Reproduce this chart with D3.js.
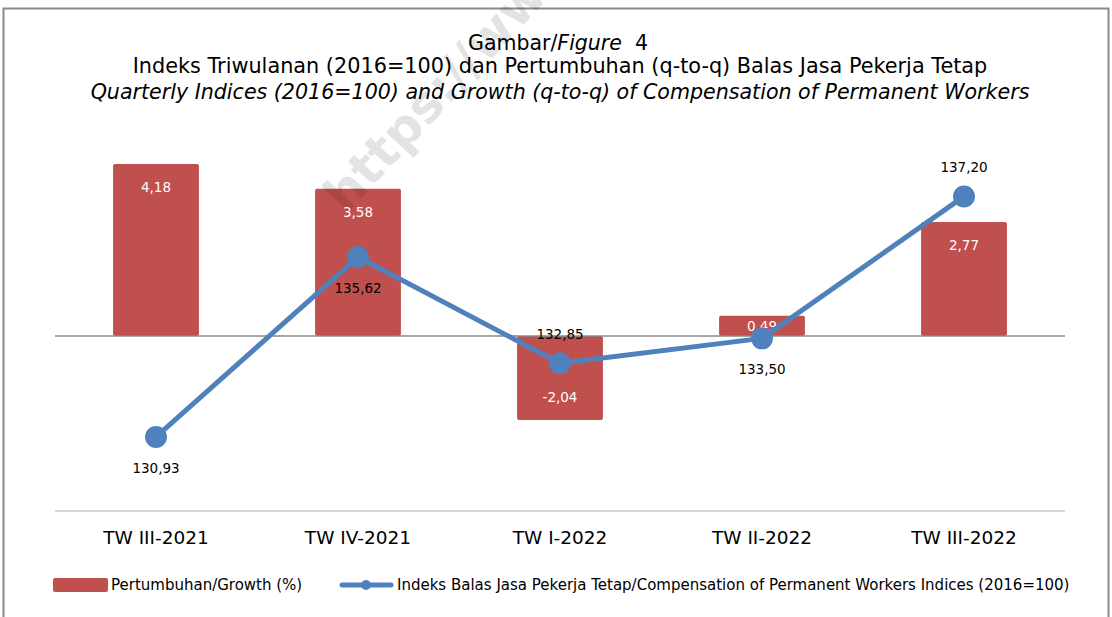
<!DOCTYPE html>
<html><head><meta charset="utf-8">
<script src="https://cdn.jsdelivr.net/npm/d3@7"></script>
<style>
body{margin:0;background:#fff;}
text{font-family:"DejaVu Sans",Verdana,sans-serif;}
</style></head>
<body><svg id="c" width="1112" height="617"></svg>
<script>
const categories = ["TW III-2021","TW IV-2021","TW I-2022","TW II-2022","TW III-2022"];
const growth = [4.18, 3.58, -2.04, 0.49, 2.77];
const indices = [130.93, 135.62, 132.85, 133.50, 137.20];
const growthLabels = ["4,18","3,58","-2,04","0,49","2,77"];
const indexLabels = ["130,93","135,62","132,85","133,50","137,20"];
const indexLabelPos = ["below","below","above","below","above"];
const growthDomain = [-4.25, 6];
const indexDomain = [129, 140];
const legendLabels = ["Pertumbuhan/Growth (%)","Indeks Balas Jasa Pekerja Tetap/Compensation of Permanent Workers Indices (2016=100)"];

const svg = d3.select("#c");
const red = "#C0504D", blue = "#4F81BD";
const plot = {left:55, right:1065, top:89, bottom:511};

// frame
svg.append("rect").attr("x",3.5).attr("y",8.5).attr("width",1105).attr("height",640)
  .attr("fill","#fff").attr("stroke","#8a8a8a").attr("stroke-width",2);

// titles
const t1 = svg.append("text").attr("x",558).attr("y",50).attr("text-anchor","middle")
  .attr("font-size",20.5).attr("fill","#000").attr("xml:space","preserve");
t1.append("tspan").text("Gambar/");
t1.append("tspan").attr("font-style","italic").text("Figure");
t1.append("tspan").text("  4");
svg.append("text").attr("x",560).attr("y",73).attr("text-anchor","middle").attr("font-size",20.8)
  .text("Indeks Triwulanan (2016=100) dan Pertumbuhan (q-to-q) Balas Jasa Pekerja Tetap");
svg.append("text").attr("x",560).attr("y",99).attr("text-anchor","middle").attr("font-size",20.6)
  .attr("font-style","italic")
  .text("Quarterly Indices (2016=100) and Growth (q-to-q) of Compensation of Permanent Workers");

const x = d3.scaleBand().domain(categories).range([plot.left, plot.right]).paddingInner(0.575).paddingOuter(0.2875);
const y1 = d3.scaleLinear().domain(growthDomain).range([plot.bottom, plot.top]);
const y2 = d3.scaleLinear().domain(indexDomain).range([plot.bottom, plot.top]);

// bottom axis line
svg.append("line").attr("x1",plot.left).attr("x2",plot.right).attr("y1",plot.bottom).attr("y2",plot.bottom)
  .attr("stroke","#d4d4d4").attr("stroke-width",2);

// bars
svg.selectAll("rect.bar").data(growth).enter().append("rect").attr("class","bar")
  .attr("x",(d,i)=>x(categories[i])).attr("width",x.bandwidth())
  .attr("y",d=>Math.min(y1(d),y1(0))).attr("height",d=>Math.abs(y1(d)-y1(0)))
  .attr("rx",2).attr("fill",red);

// zero line
svg.append("line").attr("x1",plot.left).attr("x2",plot.right).attr("y1",y1(0)).attr("y2",y1(0))
  .attr("stroke","#8a8a8a").attr("stroke-width",1.5);

// watermark
svg.append("text").attr("transform","translate(346,215) rotate(-47)")
  .attr("font-size",50).attr("font-weight","bold").attr("fill","#000").attr("fill-opacity",0.11)
  .text("https://www.bps.go.id");

// bar labels
svg.selectAll("text.bl").data(growth).enter().append("text").attr("class","bl")
  .attr("x",(d,i)=>x(categories[i])+x.bandwidth()/2)
  .attr("y",(d,i)=>{
    const h = Math.abs(y1(d)-y1(0));
    if (h < 40) return Math.min(y1(d),y1(0)) + h/2 + 5;
    return d>=0 ? y1(d)+28 : y1(d)-18;
  })
  .attr("text-anchor","middle").attr("font-size",13.5).attr("fill","#fff")
  .text((d,i)=>growthLabels[i]);

// line
const line = d3.line().x((d,i)=>x(categories[i])+x.bandwidth()/2).y(d=>y2(d));
svg.append("path").datum(indices).attr("d",line).attr("fill","none")
  .attr("stroke",blue).attr("stroke-width",5).attr("stroke-linejoin","round");
svg.selectAll("circle.pt").data(indices).enter().append("circle").attr("class","pt")
  .attr("cx",(d,i)=>x(categories[i])+x.bandwidth()/2).attr("cy",d=>y2(d)).attr("r",11).attr("fill",blue);
svg.selectAll("text.ll").data(indices).enter().append("text").attr("class","ll")
  .attr("x",(d,i)=>x(categories[i])+x.bandwidth()/2)
  .attr("y",(d,i)=>indexLabelPos[i]==="below" ? y2(d)+36 : y2(d)-24)
  .attr("text-anchor","middle").attr("font-size",13.5).attr("fill","#000")
  .text((d,i)=>indexLabels[i]);

// category labels
svg.selectAll("text.cat").data(categories).enter().append("text").attr("class","cat")
  .attr("x",d=>x(d)+x.bandwidth()/2).attr("y",544).attr("text-anchor","middle")
  .attr("font-size",18.5).text(d=>d);

// legend
svg.append("rect").attr("x",53).attr("y",578).attr("width",55).attr("height",14).attr("rx",2).attr("fill",red);
svg.append("text").attr("x",111).attr("y",590).attr("font-size",15).text(legendLabels[0]);
svg.append("line").attr("x1",342).attr("x2",391).attr("y1",585).attr("y2",585)
  .attr("stroke",blue).attr("stroke-width",5).attr("stroke-linecap","round");
svg.append("circle").attr("cx",366).attr("cy",585).attr("r",5).attr("fill",blue);
svg.append("text").attr("x",397).attr("y",590).attr("font-size",15).text(legendLabels[1]);
</script></body></html>
